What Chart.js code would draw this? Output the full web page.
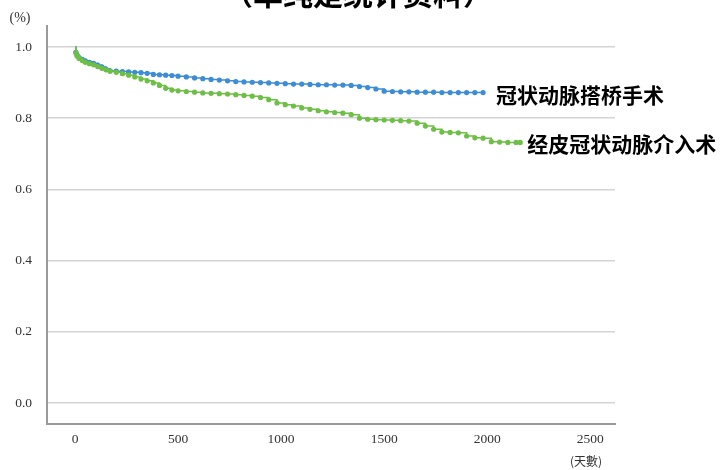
<!DOCTYPE html>
<html><head><meta charset="utf-8">
<script src="https://cdn.jsdelivr.net/npm/chart.js@4/dist/chart.umd.min.js"></script>
<style>html,body{margin:0;padding:0;background:#fff}#w{width:721px;height:470px;position:relative}</style>
</head><body><div id="w"><canvas id="c"></canvas></div>
<script>
const TITLE = '（单纯是统计资料）';
const Y_TITLE = '(%)';
const X_TITLE = '(天數)';
const SERIES_NAMES = ['冠状动脉搭桥手术', '经皮冠状动脉介入术'];
const X_TICKS = [0, 500, 1000, 1500, 2000, 2500];
const Y_TICKS = [0, 0.2, 0.4, 0.6, 0.8, 1.0];

const CABG_DAYS = [0,4,10,20,35,50,70,90,110,130,150,170,200,230,260,290,320,350,380,410,440,470,500,540,580,620,660,700,740,780,820,860,900,940,980,1020,1060,1100,1140,1180,1220,1260,1300,1340,1380,1420,1460,1500,1540,1580,1620,1660,1700,1740,1780,1820,1860,1900,1940,1980];
const CABG_SURV = [1.0,0.985,0.977,0.97,0.965,0.961,0.957,0.954,0.949,0.944,0.938,0.933,0.932,0.931,0.93,0.929,0.928,0.926,0.923,0.922,0.921,0.92,0.918,0.916,0.913,0.911,0.909,0.907,0.905,0.903,0.902,0.901,0.9,0.899,0.898,0.897,0.896,0.896,0.895,0.894,0.894,0.893,0.893,0.892,0.889,0.886,0.882,0.876,0.875,0.874,0.874,0.873,0.873,0.873,0.872,0.872,0.872,0.872,0.872,0.872];

const PCI_DAYS = [0,4,10,20,35,50,70,90,110,130,150,170,200,230,260,290,320,350,380,410,440,470,500,540,580,620,660,700,740,780,820,860,900,940,980,1020,1060,1100,1140,1180,1220,1260,1300,1340,1380,1420,1460,1500,1540,1580,1620,1660,1700,1740,1780,1820,1860,1900,1940,1980,2020,2060,2100,2140,2160];
const PCI_SURV = [1.0,0.984,0.975,0.968,0.962,0.957,0.953,0.95,0.945,0.94,0.936,0.932,0.929,0.925,0.921,0.916,0.91,0.905,0.899,0.892,0.884,0.879,0.877,0.875,0.873,0.871,0.87,0.869,0.868,0.866,0.864,0.862,0.858,0.852,0.843,0.838,0.834,0.829,0.825,0.821,0.818,0.816,0.814,0.81,0.8,0.797,0.796,0.795,0.794,0.793,0.792,0.786,0.778,0.769,0.761,0.76,0.759,0.75,0.745,0.744,0.734,0.733,0.732,0.732,0.732];

const BLUE = '#3d8cd6';
const GREEN = '#6dbf45';

function pts(days, surv) { return days.map((d, i) => ({ x: d, y: surv[i] })); }

const labelPlugin = {
  id: 'labels',
  afterDraw(chart) {
    const ctx = chart.ctx;
    const xs = chart.scales.x, ys = chart.scales.y;
    ctx.save();
    ctx.fillStyle = '#000';
    ctx.font = 'bold 30px "Noto Sans CJK SC"';
    ctx.textAlign = 'center';
    ctx.textBaseline = 'alphabetic';
    ctx.fillText(TITLE, 358, 5);

    ctx.fillStyle = '#333';
    ctx.font = '14px "Liberation Serif"';
    ctx.textAlign = 'center';
    ctx.textBaseline = 'middle';
    ctx.fillText(Y_TITLE, 20, 18);
    ctx.font = '12px "Noto Sans CJK TC"';
    ctx.fillText(X_TITLE, 586, 461);

    ctx.fillStyle = '#000';
    ctx.font = 'bold 21px "Noto Sans CJK SC"';
    ctx.textAlign = 'left';
    ctx.textBaseline = 'middle';
    chart.data.datasets.forEach((ds, i) => {
      const last = ds.data[ds.data.length - 1];
      const px = xs.getPixelForValue(last.x);
      const py = ys.getPixelForValue(last.y);
      ctx.fillText(ds.label, px + (i === 0 ? 7 : 13), py + 2);
    });
    ctx.restore();
  }
};

new Chart(document.getElementById('c'), {
  type: 'line',
  data: {
    datasets: [
      { label: SERIES_NAMES[1], data: pts(PCI_DAYS, PCI_SURV), borderColor: GREEN, backgroundColor: GREEN,
        borderWidth: 1.5, stepped: true, pointRadius: c => c.dataIndex === 0 ? 0 : 2.6, pointBorderWidth: 0,
        pointBackgroundColor: GREEN, order: 0 },
      { label: SERIES_NAMES[0], data: pts(CABG_DAYS, CABG_SURV), borderColor: BLUE, backgroundColor: BLUE,
        borderWidth: 1.5, stepped: true, pointRadius: c => c.dataIndex === 0 ? 0 : 2.6, pointBorderWidth: 0,
        pointBackgroundColor: BLUE, order: 1 }
    ]
  },
  options: {
    responsive: true, maintainAspectRatio: false, animation: false,
    layout: { padding: { top: 26, right: 106, left: 0, bottom: 0 } },
    plugins: { legend: { display: false }, tooltip: { enabled: false } },
    scales: {
      x: {
        type: 'linear', min: -136, max: 2620,
        afterBuildTicks: s => { s.ticks = X_TICKS.map(v => ({ value: v })); },
        afterFit: s => { s.height = 46; },
        ticks: { callback: v => String(v), font: { family: 'Liberation Serif', size: 13.5 }, color: '#333', padding: 7, maxRotation: 0 },
        grid: { display: false, drawTicks: false },
        border: { display: true, color: '#9a9a9a', width: 2 }
      },
      y: {
        type: 'linear', min: -0.059, max: 1.059,
        afterBuildTicks: s => { s.ticks = Y_TICKS.map(v => ({ value: v })); },
        afterFit: s => { s.width = 47; },
        ticks: { callback: v => Number(v).toFixed(1), font: { family: 'Liberation Serif', size: 13.5 }, color: '#333', padding: 15 },
        grid: { color: '#d4d4d4', lineWidth: 1.5, drawTicks: false },
        border: { display: true, color: '#9a9a9a', width: 2 }
      }
    }
  },
  plugins: [labelPlugin]
});
</script>
</body></html>
